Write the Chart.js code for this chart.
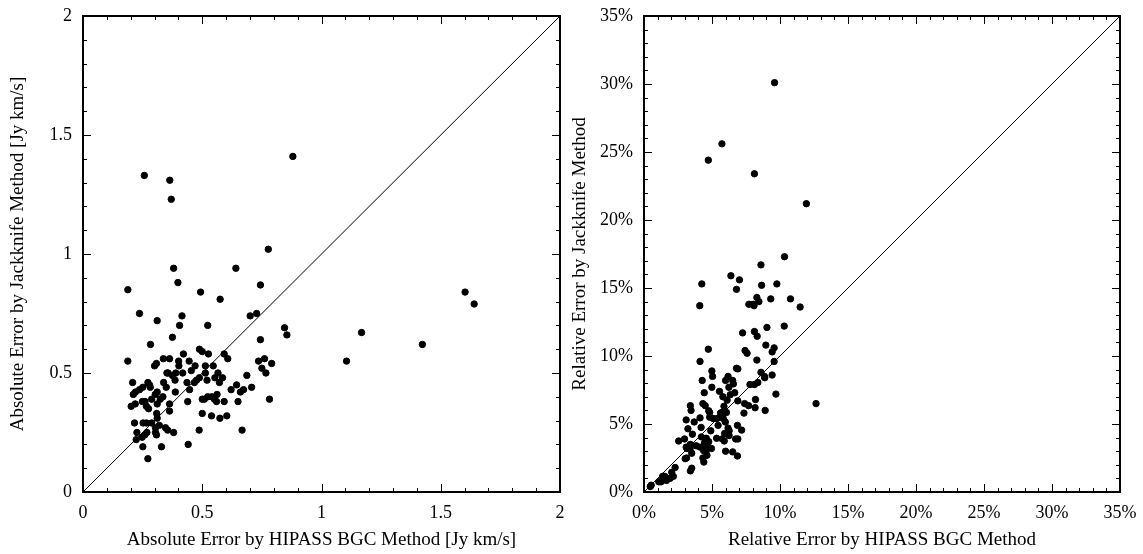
<!DOCTYPE html>
<html>
<head>
<meta charset="utf-8">
<script src="https://cdn.jsdelivr.net/npm/chart.js@4/dist/chart.umd.min.js"></script>
<style>
  html, body { margin: 0; padding: 0; background: #fff; }
  #wrap { position: relative; width: 1143px; height: 554px; }
  .box { position: absolute; top: 0; height: 554px; }
  #left { left: 0; width: 572px; }
  #right { left: 572px; width: 571px; }
</style>
</head>
<body>
<div id="wrap">
  <div class="box" id="left"><canvas id="absChart"></canvas></div>
  <div class="box" id="right"><canvas id="relChart"></canvas></div>
</div>
<script>
// absolute errors [Jy km/s]: HIPASS BGC method (x) vs jackknife method (y)
const absBgc = [0.88,0.257,0.364,0.37,0.777,0.38,0.641,0.398,0.744,0.188,0.493,1.602,0.575,1.64,0.237,0.728,0.415,0.701,0.311,0.405,
  0.523,0.845,0.855,1.168,0.375,0.744,0.283,1.423,0.488,0.50,0.421,0.526,0.592,0.337,0.363,0.607,0.761,0.188,0.401,0.445,
  0.736,1.105,0.308,0.791,0.30,0.402,0.47,0.513,0.546,0.75,0.352,0.357,0.389,0.418,0.513,0.566,0.767,0.454,0.687,0.375,
  0.488,0.553,0.585,0.476,0.52,0.386,0.572,0.208,0.272,0.338,0.436,0.467,0.644,0.279,0.282,0.349,0.707,0.251,0.237,0.447,
  0.621,0.673,0.22,0.387,0.66,0.211,0.311,0.303,0.562,0.335,0.523,0.54,0.324,0.288,0.50,0.509,0.551,0.782,0.249,0.26,
  0.439,0.56,0.592,0.65,0.219,0.311,0.363,0.202,0.266,0.275,0.363,0.309,0.50,0.539,0.603,0.574,0.311,0.216,0.252,0.266,
  0.288,0.32,0.304,0.346,0.355,0.487,0.667,0.226,0.268,0.304,0.38,0.259,0.308,0.248,0.223,0.441,0.251,0.329,0.272];
const absJack = [1.41,1.33,1.31,1.23,1.02,0.94,0.94,0.88,0.87,0.85,0.84,0.84,0.81,0.79,0.75,0.75,0.74,0.74,0.72,0.70,
  0.70,0.69,0.66,0.67,0.65,0.64,0.62,0.62,0.60,0.59,0.58,0.58,0.58,0.56,0.56,0.56,0.56,0.55,0.55,0.55,
  0.55,0.55,0.54,0.54,0.53,0.53,0.53,0.53,0.53,0.52,0.50,0.50,0.50,0.50,0.50,0.50,0.50,0.51,0.49,0.49,
  0.48,0.48,0.48,0.47,0.47,0.47,0.46,0.46,0.46,0.46,0.46,0.46,0.45,0.45,0.44,0.44,0.44,0.44,0.43,0.43,
  0.43,0.43,0.42,0.42,0.42,0.41,0.42,0.41,0.41,0.40,0.40,0.40,0.39,0.39,0.39,0.39,0.39,0.39,0.38,0.38,
  0.38,0.38,0.38,0.38,0.37,0.37,0.37,0.36,0.36,0.35,0.34,0.33,0.33,0.32,0.32,0.31,0.31,0.29,0.29,0.29,
  0.29,0.28,0.27,0.27,0.26,0.26,0.26,0.25,0.25,0.25,0.25,0.24,0.24,0.23,0.22,0.20,0.19,0.19,0.14];

// relative errors [%]: HIPASS BGC method (x) vs jackknife method (y)
const relBgc = [9.6,5.73,4.73,8.12,11.94,10.33,8.6,6.39,7.02,4.25,8.65,9.77,6.8,8.3,10.77,9.32,8.45,7.71,8.04,8.09,
  4.1,11.48,9.04,10.31,8.12,7.25,8.32,8.96,9.57,4.73,7.43,7.58,9.42,8.3,9.57,4.12,6.8,6.9,4.99,8.6,
  5.04,6.18,9.42,8.86,8.88,4.28,6.0,6.52,6.57,8.37,7.79,8.12,4.99,6.24,5.55,6.67,4.43,6.34,9.7,5.8,
  6.11,8.2,6.9,12.65,4.33,3.41,4.5,7.4,7.69,5.88,8.17,3.46,8.91,4.76,4.83,5.62,5.73,5.9,6.06,7.35,
  4.83,5.09,5.37,5.83,5.98,4.12,3.1,3.69,5.45,6.87,3.23,4.2,4.91,6.18,6.26,7.18,3.56,5.93,6.26,2.55,
  2.98,4.22,4.58,5.34,5.75,6.74,6.9,5.9,4.45,4.76,3.41,3.84,4.12,3.1,4.33,4.68,4.96,3.16,3.39,4.38,
  4.56,6.0,6.52,3.51,4.63,6.87,4.33,3.03,3.13,4.4,2.29,3.51,3.41,2.04,1.37,1.53,2.16,1.71,1.91,1.09,
  1.25,1.65,0.53,0.46];
const relJack = [30.1,25.6,24.4,23.4,21.2,17.3,16.7,15.9,15.6,15.3,15.2,15.3,14.9,14.3,14.2,14.2,14.0,13.8,13.8,13.7,
  13.7,13.6,12.1,12.2,11.8,11.7,11.45,10.8,10.6,10.5,10.4,10.2,10.3,9.7,9.6,9.6,9.1,9.05,8.9,8.8,
  8.5,8.5,8.6,8.5,8.4,8.2,8.2,8.2,7.95,8.05,7.9,7.9,7.7,7.7,7.4,7.3,7.3,7.15,7.2,7.0,
  6.75,6.8,6.7,6.5,6.5,6.35,6.35,6.5,6.35,6.3,6.2,6.0,6.0,5.97,5.85,5.8,5.85,5.9,5.85,5.8,
  5.5,5.4,5.4,5.4,5.15,5.45,5.3,5.15,4.9,4.9,4.65,4.75,4.5,4.7,4.5,4.55,4.25,4.3,4.15,3.75,
  3.9,4.05,3.95,3.95,3.9,3.9,3.9,3.75,3.6,3.7,3.5,3.4,3.3,3.3,3.3,3.35,3.2,3.2,3.2,3.05,
  3.0,3.0,2.95,2.85,2.7,2.65,2.5,2.45,2.5,2.2,1.8,1.75,1.55,1.45,1.15,1.15,1.15,1.0,1.0,0.75,
  0.75,0.85,0.5,0.4];

const absTicks = [0, 0.5, 1, 1.5, 2];
const relTicks = [0, 5, 10, 15, 20, 25, 30, 35];

const serif = "'Liberation Serif', 'DejaVu Serif', serif";

// frame on all four sides with inward major/minor ticks
const frameTicks = {
  id: 'frameTicks',
  afterDraw(chart, args, opts) {
    const {ctx, chartArea: a, scales: {x, y}} = chart;
    ctx.save();
    ctx.strokeStyle = '#000';
    ctx.lineWidth = 1;
    ctx.beginPath();
    const step = opts.minor;
    const n = Math.round((x.max - x.min) / step);
    for (let i = 0; i <= n; i++) {
      const v = x.min + i * step;
      const major = Math.abs(v / opts.major - Math.round(v / opts.major)) < 1e-6;
      const len = major ? 8 : 4;
      const px = Math.round(x.getPixelForValue(v)) + 0.5;
      ctx.moveTo(px, a.bottom); ctx.lineTo(px, a.bottom - len);
      ctx.moveTo(px, a.top); ctx.lineTo(px, a.top + len);
      const py = Math.round(y.getPixelForValue(v)) + 0.5;
      ctx.moveTo(a.left, py); ctx.lineTo(a.left + len, py);
      ctx.moveTo(a.right, py); ctx.lineTo(a.right - len, py);
    }
    ctx.stroke();
    ctx.lineWidth = 2;
    ctx.strokeRect(a.left, a.top, a.right - a.left, a.bottom - a.top);
    ctx.restore();
  }
};

function makeChart(id, xs, ys, tickVals, maxV, fmt, xTitle, yTitle, yWidth, padRight, yTitlePad, minor, major) {
  const pts = xs.map((v, i) => ({x: v, y: ys[i]}));
  const setTicks = s => { s.ticks = tickVals.map(v => ({value: v})); };
  new Chart(document.getElementById(id), {
    type: 'scatter',
    data: {
      datasets: [
        {data: pts, backgroundColor: '#000', borderColor: '#000', pointRadius: 3.2, pointHoverRadius: 3.2},
        {data: [{x: 0, y: 0}, {x: maxV, y: maxV}], showLine: true, pointRadius: 0,
         borderColor: '#000', borderWidth: 1}
      ]
    },
    options: {
      responsive: true,
      maintainAspectRatio: false,
      animation: false,
      layout: {padding: {top: 16, right: padRight, left: 0, bottom: 0}},
      plugins: {legend: {display: false}, tooltip: {enabled: false}, frameTicks: {minor, major}},
      scales: {
        x: {
          type: 'linear', min: 0, max: maxV,
          afterBuildTicks: setTicks,
          afterFit: s => { s.height = 62; s.paddingLeft = 0; s.paddingRight = 0; },
          grid: {display: false, drawTicks: false},
          border: {display: false},
          ticks: {color: '#000', font: {family: serif, size: 18}, padding: 10, maxRotation: 0, callback: fmt},
          title: {display: true, text: xTitle, color: '#000', font: {family: serif, size: 19}, padding: {top: 0, bottom: 3}}
        },
        y: {
          type: 'linear', min: 0, max: maxV,
          afterBuildTicks: setTicks,
          afterFit: s => { s.width = yWidth; s.paddingTop = 0; s.paddingBottom = 0; },
          grid: {display: false, drawTicks: false},
          border: {display: false},
          ticks: {color: '#000', font: {family: serif, size: 18}, padding: 11, callback: fmt},
          title: {display: true, text: yTitle, color: '#000', font: {family: serif, size: 19}, padding: {top: yTitlePad, bottom: 0}}
        }
      }
    },
    plugins: [frameTicks]
  });
}

makeChart('absChart', absBgc, absJack, absTicks, 2, v => String(v),
  'Absolute Error by HIPASS BGC Method [Jy km/s]', 'Absolute Error by Jackknife Method [Jy km/s]', 83, 12, 7, 0.1, 0.5);
makeChart('relChart', relBgc, relJack, relTicks, 35, v => v + '%',
  'Relative Error by HIPASS BGC Method', 'Relative Error by Jackknife Method', 72, 23, -3, 1, 5);
</script>
</body>
</html>
